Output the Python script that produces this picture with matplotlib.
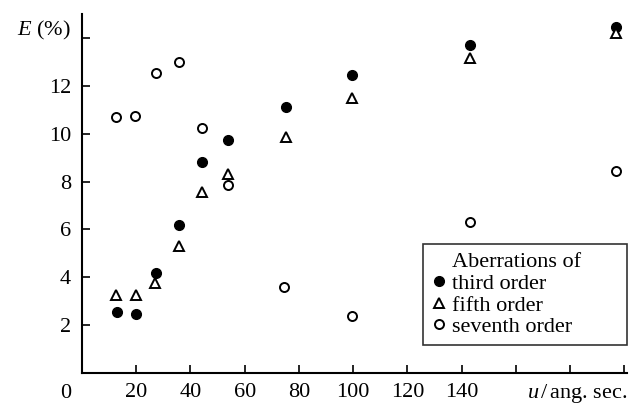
import matplotlib
matplotlib.use('Agg')
import matplotlib.pyplot as plt

plt.rcParams['font.family'] = ['Liberation Serif', 'DejaVu Serif']
plt.rcParams['mathtext.fontset'] = 'custom'
plt.rcParams['mathtext.it'] = 'Liberation Serif:italic'
plt.rcParams['mathtext.rm'] = 'Liberation Serif'

# third order
u3 = [13, 20, 27.3, 35.6, 44.4, 54, 75.2, 99.6, 143, 197]
e3 = [2.54, 2.48, 4.17, 6.2, 8.8, 9.75, 11.1, 12.45, 13.7, 14.45]
# fifth order
u5 = [12.6, 20, 27, 35.6, 44.4, 54, 75.2, 99.6, 143, 197]
e5 = [3.25, 3.25, 3.75, 5.3, 7.55, 8.3, 9.85, 11.5, 13.17, 14.2]
# seventh order
u7 = [12.6, 19.6, 27.4, 35.9, 44.4, 53.7, 74.6, 99.6, 143, 197]
e7 = [10.7, 10.75, 12.55, 13.0, 10.25, 7.85, 3.6, 2.4, 6.33, 8.46]

xticks = [20, 40, 60, 80, 100, 120, 140, 160, 180, 200]
xlabels = ['20', '40', '60', '80', '100', '120', '140', '', '', '']
yticks = [2, 4, 6, 8, 10, 12, 14]
ylabels = ['2', '4', '6', '8', '10', '12', '']

fs = 16

fig = plt.figure(figsize=(6.33, 4.07), dpi=100)
ax = fig.add_axes([0.1295, 0.0835, 0.861, 0.882])

ax.plot([], [], ' ', label='Aberrations of')
ax.plot(u3, e3, 'o', color='black', markersize=7, label='third order')
ax.plot(u5, e5, '^', markerfacecolor='white', markeredgecolor='black',
        markeredgewidth=1.4, markersize=7.5, label='fifth order')
ax.plot(u7, e7, 'o', markerfacecolor='white', markeredgecolor='black',
        markeredgewidth=1.4, markersize=6.5, label='seventh order')

ax.set_xlim(0, 201)
ax.set_ylim(0, 15)
ax.set_xticks(xticks)
ax.set_xticklabels(xlabels)
ax.set_yticks(yticks)
ax.set_yticklabels(ylabels)
ax.tick_params(direction='in', length=6, width=1.2, labelsize=fs, colors='black')
ax.tick_params(axis='x', pad=7)
ax.tick_params(axis='y', pad=8)
for s in ['top', 'right']:
    ax.spines[s].set_visible(False)
for s in ['left', 'bottom']:
    ax.spines[s].set_linewidth(1.5)

fig.text(0.103, 0.034, '0', fontsize=fs, ha='center', va='center')
fig.text(0.992, 0.034, r'$u\,$/$\,$ang. sec.', fontsize=fs, ha='right', va='center')
fig.text(0.112, 0.926, r'$E$ (%)', fontsize=fs, ha='right', va='center')

leg = ax.legend(loc='lower left', bbox_to_anchor=(0.626, 0.078, 0.374, 0.28),
                mode='expand', fontsize=fs, frameon=True, fancybox=False,
                edgecolor='black', handletextpad=0.25, handlelength=0.7,
                borderpad=0.35, labelspacing=0.05, borderaxespad=0)
leg.get_frame().set_linewidth(1.2)

fig.savefig('out.png', dpi=100)
